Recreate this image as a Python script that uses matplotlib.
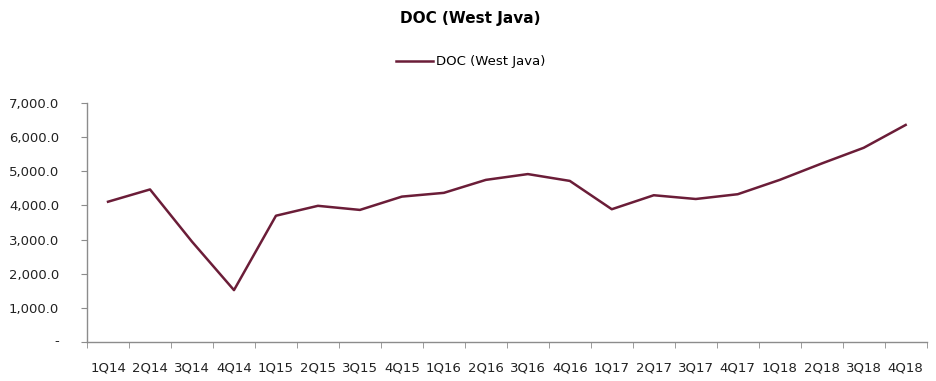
import numpy as np
import matplotlib.pyplot as plt
from matplotlib.ticker import FuncFormatter

quarters = ['1Q14', '2Q14', '3Q14', '4Q14', '1Q15', '2Q15', '3Q15', '4Q15',
            '1Q16', '2Q16', '3Q16', '4Q16', '1Q17', '2Q17', '3Q17', '4Q17',
            '1Q18', '2Q18', '3Q18', '4Q18']
doc = [4110, 4470, 2940, 1520, 3700, 3990, 3870, 4260,
       4370, 4750, 4920, 4720, 3890, 4300, 4190, 4330,
       4750, 5230, 5690, 6360]

line_color = '#6b1d38'
axis_color = '#8c8c8c'

fig = plt.figure(figsize=(9.36, 3.81), dpi=100)
ax = fig.add_axes([0.093, 0.1024, 0.897, 0.627])

x = np.arange(len(quarters))
ax.plot(x, doc, color=line_color, linewidth=1.8, label='DOC (West Java)')

ax.set_xlim(-0.5, len(quarters) - 0.5)
ax.set_ylim(0, 7000)
ax.set_yticks(np.arange(0, 7001, 1000))
ax.yaxis.set_major_formatter(FuncFormatter(lambda v, p: '' if v == 0 else '{:,.1f}'.format(v)))
# accounting style: zero shown as a dash, set in from the right edge
ax.annotate('-', xy=(0, 0), xycoords='axes fraction', xytext=(-22, 0), textcoords='offset points',
            ha='center', va='center', fontsize=9.5, color='#222222')

# categories labelled at centre, ticks between categories (Excel style)
ax.set_xticks(x)
ax.set_xticklabels(quarters)
ax.set_xticks(np.arange(-0.5, len(quarters)), minor=True)
ax.tick_params(axis='x', which='major', length=0, pad=14, labelsize=9.5, labelcolor='#222222')
ax.tick_params(axis='x', which='minor', length=4, color=axis_color, direction='out')
ax.tick_params(axis='y', length=4, color=axis_color, pad=16, labelsize=9.5, labelcolor='#222222')

for side in ['top', 'right']:
    ax.spines[side].set_visible(False)
for side in ['left', 'bottom']:
    ax.spines[side].set_color(axis_color)
    ax.spines[side].set_linewidth(1.0)

fig.text(0.502, 0.952, 'DOC (West Java)', ha='center', va='center', fontsize=11, fontweight='bold')
fig.legend(loc='center', bbox_to_anchor=(0.503, 0.838), frameon=False, fontsize=9.5,
           handlelength=2.8, handletextpad=0.2)

fig.savefig('out.png', dpi=100)
